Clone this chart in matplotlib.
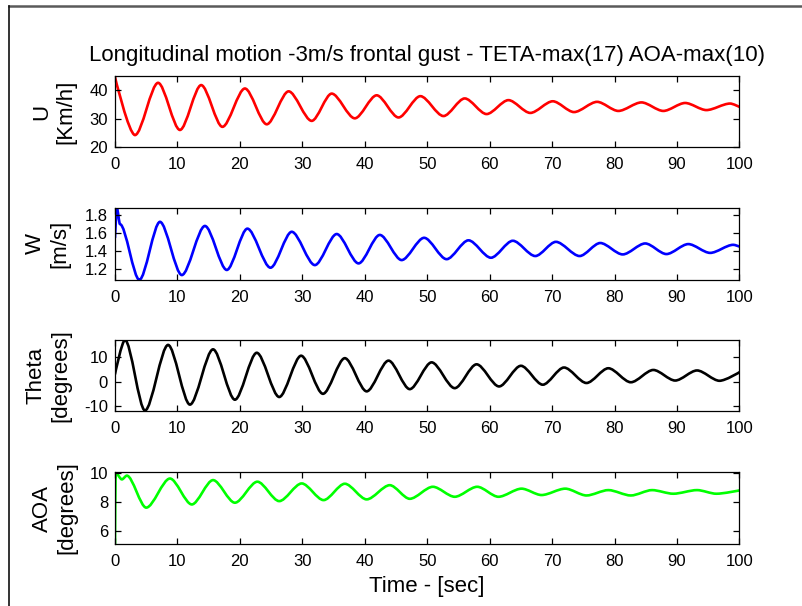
import matplotlib
matplotlib.use("Agg")
import matplotlib.pyplot as plt
from matplotlib.lines import Line2D
from matplotlib.path import Path
from matplotlib.patches import PathPatch

plt.rcParams['font.family'] = ['Liberation Sans', 'DejaVu Sans']

# Turning points of each response (time [s], value); the first and last
# samples are the start and end of the run.

# Forward speed U [Km/h]
t_u = [0, 3.2, 6.9, 10.4, 13.8, 17.2, 20.8, 24.3, 27.8, 31.5, 34.7, 38.4, 41.9,
       45.4, 48.9, 52.6, 56.0, 59.5, 63.0, 66.5, 70.1, 73.5, 77.2, 80.6, 84.3,
       87.8, 91.3, 94.7, 98.5, 100]
u = [44.6, 24.2, 42.6, 26.0, 41.8, 27.1, 40.6, 28.0, 39.6, 29.2, 38.8, 30.1, 38.2,
     30.4, 37.9, 30.9, 37.1, 31.6, 36.5, 32.0, 36.1, 32.3, 35.9, 32.7, 35.7,
     32.7, 35.5, 33.0, 35.3, 34.1]

# Vertical speed W [m/s]
t_w = [0, 0.3, 0.8, 3.9, 7.2, 10.7, 14.4, 17.9, 21.2, 24.9, 28.3, 32.0, 35.5,
       39.0, 42.4, 45.9, 49.5, 53.1, 56.6, 60.2, 63.7, 67.3, 70.6, 74.4, 77.7,
       81.3, 84.9, 88.3, 91.8, 95.3, 99.0, 100]
w = [1.55, 1.88, 1.70, 1.08, 1.726, 1.133, 1.68, 1.19, 1.65, 1.215, 1.615, 1.244, 1.59,
     1.263, 1.58, 1.30, 1.548, 1.31, 1.52, 1.326, 1.515, 1.345, 1.503, 1.345, 1.49,
     1.363, 1.485, 1.367, 1.478, 1.38, 1.47, 1.45]

# Pitch angle Theta [degrees]
t_theta = [0, 1.6, 4.8, 8.5, 12.0, 15.7, 19.2, 22.7, 26.3, 29.8, 33.3, 36.8, 40.3,
           43.8, 47.2, 50.7, 54.4, 57.9, 61.5, 65.0, 68.5, 71.9, 75.5, 79.0, 82.6,
           86.2, 89.7, 93.2, 96.8, 100]
theta = [3.0, 16.9, -11.8, 14.9, -9.4, 13.1, -7.4, 11.7, -6.3, 10.5, -5.0, 9.5, -4.0,
         8.5, -3.1, 7.8, -2.7, 7.0, -2.0, 6.4, -1.3, 5.7, -0.6, 5.4, -0.3,
         4.7, 0.4, 4.5, 0.3, 3.8]

# Angle of attack AOA [degrees]
t_aoa = [0, 0.1, 1.1, 1.9, 5.0, 8.8, 12.3, 15.7, 19.2, 22.8, 26.3, 29.9, 33.4,
         36.8, 40.3, 44.0, 47.2, 50.9, 54.4, 58.0, 61.4, 65.1, 68.3, 72.1, 75.5,
         79.0, 82.6, 86.0, 89.4, 93.2, 96.3, 100]
aoa = [5.1, 10.0, 9.54, 9.8, 7.59, 9.6, 7.81, 9.49, 7.93, 9.38, 8.04, 9.26, 8.11,
       9.24, 8.16, 9.14, 8.2, 9.03, 8.34, 9.03, 8.34, 8.9, 8.46, 8.9, 8.43,
       8.8, 8.43, 8.8, 8.55, 8.8, 8.55, 8.78]

# number of leading samples that are not turning points
lead_u, lead_w, lead_theta, lead_aoa = 1, 1, 1, 1

x_ticks = list(range(0, 101, 10))


def response_path(t, y, n_lead, k=0.3):
    """Smooth path through the samples, flat at each turning point."""
    n = len(t)
    turning = [n_lead <= i < n - 1 for i in range(n)]
    verts = [(t[0], y[0])]
    codes = [Path.MOVETO]
    for i in range(1, n):
        dt = t[i] - t[i - 1]
        c1 = (t[i - 1] + k * dt, y[i - 1]) if turning[i - 1] else (t[i - 1], y[i - 1])
        c2 = (t[i] - k * dt, y[i]) if turning[i] else (t[i], y[i])
        verts += [c1, c2, (t[i], y[i])]
        codes += [Path.CURVE4] * 3
    return Path(verts, codes)


panels = [
    (t_u, u, lead_u, '#ff0000', 'U\n[Km/h]', (20, 45), [20, 30, 40], ['20', '30', '40']),
    (t_w, w, lead_w, '#0000ff', 'W\n[m/s]', (1.078, 1.88), [1.2, 1.4, 1.6, 1.8],
     ['1.2', '1.4', '1.6', '1.8']),
    (t_theta, theta, lead_theta, '#000000', 'Theta\n[degrees]', (-12, 16.9), [-10, 0, 10],
     ['-10', '0', '10']),
    (t_aoa, aoa, lead_aoa, '#00ff00', 'AOA\n[degrees]', (5.08, 10.05), [6, 8, 10],
     ['6', '8', '10']),
]

W_PX, H_PX = 803, 606
fig = plt.figure(figsize=(W_PX / 100, H_PX / 100), dpi=100)

left_px, right_px = 115, 739.5
rows_px = [(76, 147), (208, 280), (340, 411), (472, 544)]
label_x_px = [53.5, 47.5, 48.5, 55]

axes = []
for (t, y, nl, col, lab, ylim, yt, ytl), (top, bot), lx in zip(panels, rows_px, label_x_px):
    ax = fig.add_axes([left_px / W_PX, 1 - bot / H_PX,
                       (right_px - left_px) / W_PX, (bot - top) / H_PX])
    ax.add_patch(PathPatch(response_path(t, y, nl), fill=False, edgecolor=col,
                           lw=1.9, joinstyle='round', capstyle='round'))
    ax.set_xlim(0, 100)
    ax.set_ylim(*ylim)
    ax.set_xticks(x_ticks)
    ax.set_xticklabels([str(v) for v in x_ticks])
    ax.set_yticks(yt)
    ax.set_yticklabels(ytl)
    ax.tick_params(direction='in', length=4, width=0.9, top=True, right=True,
                   labelsize=12, colors='black')
    ax.tick_params(axis='x', pad=7.5)
    ax.tick_params(axis='y', pad=5)
    for s in ax.spines.values():
        s.set_linewidth(0.9)
    ax.set_ylabel(lab, fontsize=16, linespacing=1.2, va='center', ha='center')
    ax.yaxis.set_label_coords((lx - left_px) / (right_px - left_px), 0.5)
    axes.append(ax)

axes[-1].set_xlabel('Time - [sec]', fontsize=16, labelpad=5)

fig.text(427 / W_PX, 1 - 55 / H_PX,
         'Longitudinal motion -3m/s frontal gust - TETA-max(17) AOA-max(10)',
         ha='center', va='center', fontsize=16)

# Frame lines along the top and left edges
fig.add_artist(Line2D([8.5 / W_PX, 1], [1 - 6 / H_PX, 1 - 6 / H_PX],
                      transform=fig.transFigure, color='#5a5a5a', lw=1.8))
fig.add_artist(Line2D([9 / W_PX, 9 / W_PX], [0, 1 - 6 / H_PX],
                      transform=fig.transFigure, color='#111111', lw=1.2))

fig.savefig('out.png', dpi=100)
